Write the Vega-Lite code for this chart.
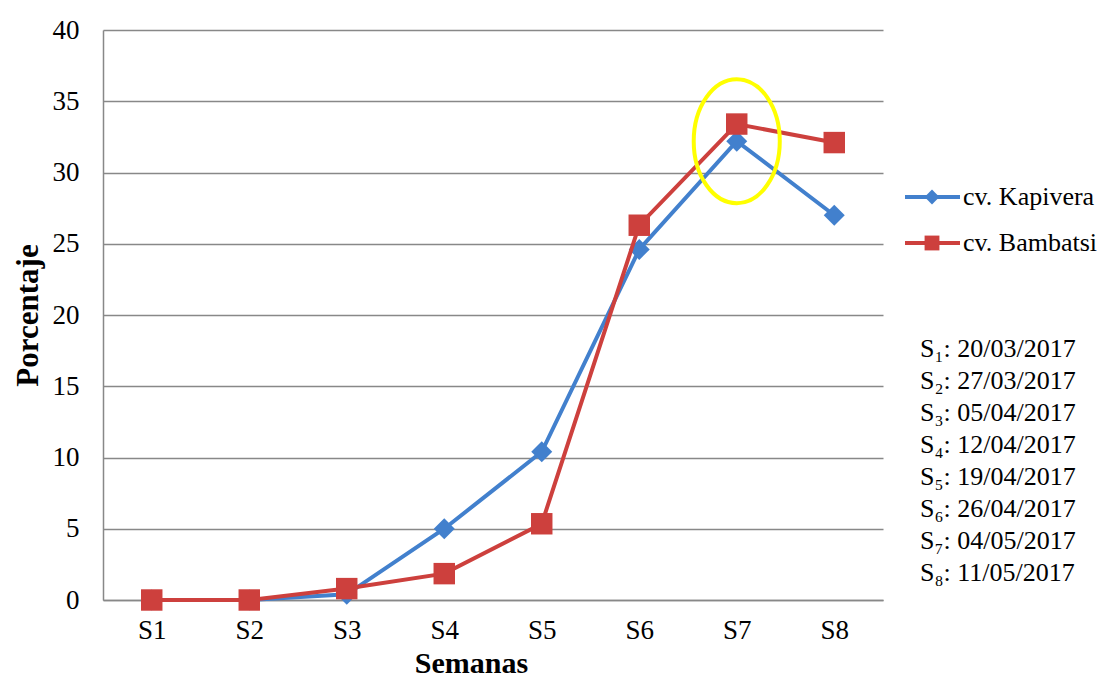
{
  "$schema": "https://vega.github.io/schema/vega-lite/v6.json",
  "background": "white",
  "padding": {"left": 12, "top": 16, "right": 0, "bottom": 0},
  "config": {
    "font": "Liberation Serif",
    "view": {"stroke": null},
    "axis": {"labelColor": "black", "titleColor": "black", "labelFont": "Liberation Serif", "titleFont": "Liberation Serif"}
  },
  "datasets": {
    "porcentaje": [
      {"Semana": "S1", "Serie": "cv. Kapivera", "Porcentaje": 0},
      {"Semana": "S2", "Serie": "cv. Kapivera", "Porcentaje": 0},
      {"Semana": "S3", "Serie": "cv. Kapivera", "Porcentaje": 0.4},
      {"Semana": "S4", "Serie": "cv. Kapivera", "Porcentaje": 5.0},
      {"Semana": "S5", "Serie": "cv. Kapivera", "Porcentaje": 10.4},
      {"Semana": "S6", "Serie": "cv. Kapivera", "Porcentaje": 24.6},
      {"Semana": "S7", "Serie": "cv. Kapivera", "Porcentaje": 32.2},
      {"Semana": "S8", "Serie": "cv. Kapivera", "Porcentaje": 27.0},
      {"Semana": "S1", "Serie": "cv. Bambatsi", "Porcentaje": 0},
      {"Semana": "S2", "Serie": "cv. Bambatsi", "Porcentaje": 0},
      {"Semana": "S3", "Serie": "cv. Bambatsi", "Porcentaje": 0.8},
      {"Semana": "S4", "Serie": "cv. Bambatsi", "Porcentaje": 1.85},
      {"Semana": "S5", "Serie": "cv. Bambatsi", "Porcentaje": 5.35},
      {"Semana": "S6", "Serie": "cv. Bambatsi", "Porcentaje": 26.3},
      {"Semana": "S7", "Serie": "cv. Bambatsi", "Porcentaje": 33.4},
      {"Semana": "S8", "Serie": "cv. Bambatsi", "Porcentaje": 32.1}
    ],
    "series": [
      {"Serie": "cv. Kapivera"},
      {"Serie": "cv. Bambatsi"}
    ],
    "fechas": [
      {"Semana": "S1", "Etiqueta": "S₁: 20/03/2017"},
      {"Semana": "S2", "Etiqueta": "S₂: 27/03/2017"},
      {"Semana": "S3", "Etiqueta": "S₃: 05/04/2017"},
      {"Semana": "S4", "Etiqueta": "S₄: 12/04/2017"},
      {"Semana": "S5", "Etiqueta": "S₅: 19/04/2017"},
      {"Semana": "S6", "Etiqueta": "S₆: 26/04/2017"},
      {"Semana": "S7", "Etiqueta": "S₇: 04/05/2017"},
      {"Semana": "S8", "Etiqueta": "S₈: 11/05/2017"}
    ]
  },
  "spacing": 20,
  "hconcat": [
    {
      "width": 780,
      "height": 570,
      "data": {"name": "porcentaje"},
      "encoding": {
        "x": {
          "field": "Semana", "type": "ordinal",
          "scale": {"type": "point", "padding": 0.5},
          "axis": {
            "title": "Semanas", "titleFontSize": 30, "titleFontWeight": "bold", "titlePadding": 5, "titleX": 368,
            "labelAngle": 0, "labelFontSize": 27, "labelPadding": 17,
            "ticks": false, "domainColor": "#888888", "domainWidth": 1.5, "grid": false
          }
        },
        "y": {
          "field": "Porcentaje", "type": "quantitative",
          "scale": {"domain": [0, 40], "nice": false},
          "axis": {
            "title": "Porcentaje", "titleFontSize": 31, "titleFontWeight": "bold", "titlePadding": 8,
            "values": [0, 5, 10, 15, 20, 25, 30, 35, 40],
            "labelFontSize": 27, "labelPadding": 24,
            "ticks": false, "domainColor": "#888888", "domainWidth": 1.5,
            "gridColor": "#888888", "gridWidth": 1.3
          }
        },
        "color": {
          "field": "Serie", "type": "nominal",
          "scale": {"domain": ["cv. Kapivera", "cv. Bambatsi"], "range": ["#4280CD", "#CD403D"]},
          "legend": null
        }
      },
      "layer": [
        {
          "transform": [{"filter": "datum.Serie === 'cv. Kapivera'"}],
          "mark": {"type": "line", "strokeWidth": 4}
        },
        {
          "transform": [{"filter": "datum.Serie === 'cv. Kapivera'"}],
          "mark": {"type": "point", "shape": "diamond", "filled": true, "opacity": 1, "size": 440}
        },
        {
          "transform": [{"filter": "datum.Serie === 'cv. Bambatsi'"}],
          "mark": {"type": "line", "strokeWidth": 4}
        },
        {
          "transform": [{"filter": "datum.Serie === 'cv. Bambatsi'"}],
          "mark": {"type": "point", "shape": "square", "filled": true, "opacity": 1, "size": 460}
        },
        {
          "transform": [{"filter": "datum.Serie === 'cv. Kapivera' && datum.Semana === 'S7'"}],
          "mark": {
            "type": "point",
            "shape": "M -0.694 0 A 0.694 1 0 1 0 0.694 0 A 0.694 1 0 1 0 -0.694 0 Z",
            "size": 15376, "filled": false, "strokeWidth": 4, "opacity": 1
          },
          "encoding": {"color": {"value": "#FFFF00"}}
        }
      ]
    },
    {
      "width": 200,
      "height": 570,
      "resolve": {"scale": {"y": "independent"}},
      "layer": [
        {
          "data": {"name": "series"},
          "encoding": {
            "y": {
              "field": "Serie", "type": "nominal", "sort": null,
              "scale": {"type": "point", "domain": ["cv. Kapivera", "cv. Bambatsi"], "range": [167, 213], "padding": 0},
              "axis": null
            },
            "color": {
              "field": "Serie", "type": "nominal",
              "scale": {"domain": ["cv. Kapivera", "cv. Bambatsi"], "range": ["#4280CD", "#CD403D"]},
              "legend": null
            }
          },
          "layer": [
            {
              "mark": {"type": "rule", "strokeWidth": 4},
              "encoding": {
                "x": {"datum": 0, "type": "quantitative", "scale": {"domain": [0, 100]}, "axis": null},
                "x2": {"datum": 27.5}
              }
            },
            {
              "mark": {"type": "point", "filled": true, "opacity": 1, "size": 220},
              "encoding": {
                "x": {"datum": 13.5, "type": "quantitative", "scale": {"domain": [0, 100]}, "axis": null},
                "shape": {
                  "field": "Serie", "type": "nominal",
                  "scale": {"domain": ["cv. Kapivera", "cv. Bambatsi"], "range": ["diamond", "square"]},
                  "legend": null
                }
              }
            },
            {
              "mark": {"type": "text", "align": "left", "baseline": "middle", "fontSize": 26},
              "encoding": {
                "x": {"datum": 29, "type": "quantitative", "scale": {"domain": [0, 100]}, "axis": null},
                "text": {"field": "Serie"},
                "color": {"value": "black"}
              }
            }
          ]
        },
        {
          "data": {"name": "fechas"},
          "mark": {"type": "text", "align": "left", "baseline": "middle", "fontSize": 26, "color": "black"},
          "encoding": {
            "x": {"datum": 7.5, "type": "quantitative", "scale": {"domain": [0, 100]}, "axis": null},
            "y": {
              "field": "Semana", "type": "ordinal", "sort": null,
              "scale": {"type": "point", "range": [319, 543], "padding": 0},
              "axis": null
            },
            "text": {"field": "Etiqueta"}
          }
        }
      ]
    }
  ]
}
